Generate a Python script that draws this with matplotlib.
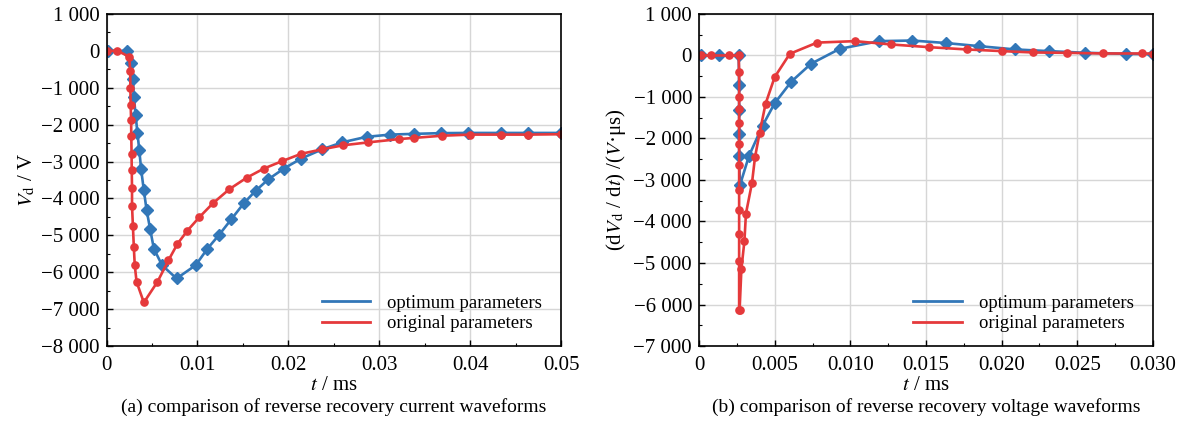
import numpy as np
import matplotlib.pyplot as plt
from matplotlib.ticker import FuncFormatter, MultipleLocator

plt.rcParams['font.family'] = ['Liberation Serif', 'DejaVu Serif']
plt.rcParams['mathtext.fontset'] = 'stix'

# (a) V_d waveforms, t in ms, V in volts
t_a_opt = [0.0002, 0.0022, 0.0027, 0.0029, 0.0030, 0.0032, 0.0034, 0.0036, 0.0038, 0.0041,
           0.0044, 0.0048, 0.0052, 0.0061, 0.0077, 0.0098, 0.0111, 0.0124, 0.0137, 0.0151,
           0.0164, 0.0178, 0.0195, 0.0214, 0.0237, 0.0259, 0.0286, 0.0312, 0.0338, 0.0368,
           0.0398, 0.0434, 0.0463, 0.0500]
v_a_opt = [0, 0, -340, -760, -1240, -1750, -2240, -2690, -3210, -3780,
           -4310, -4840, -5360, -5810, -6170, -5810, -5360, -4980, -4570, -4130,
           -3790, -3480, -3190, -2920, -2670, -2480, -2330, -2270, -2250, -2230,
           -2225, -2225, -2225, -2225]
t_a_org = [0.0001, 0.0012, 0.0025, 0.0026, 0.00262, 0.00265, 0.0027, 0.00272, 0.00275, 0.00277,
           0.0028, 0.0028, 0.0029, 0.0030, 0.0031, 0.0033, 0.0041, 0.0056, 0.0068, 0.0078,
           0.0089, 0.0102, 0.0117, 0.0135, 0.0154, 0.0173, 0.0193, 0.0214, 0.0237, 0.0260,
           0.0288, 0.0322, 0.0338, 0.0369, 0.0400, 0.0434, 0.0463, 0.0500]
v_a_org = [0, 0, -160, -550, -1000, -1460, -1880, -2310, -2790, -3240,
           -3720, -4200, -4760, -5320, -5810, -6260, -6820, -6260, -5680, -5230,
           -4870, -4510, -4130, -3750, -3440, -3190, -2990, -2790, -2670, -2560,
           -2480, -2390, -2360, -2300, -2270, -2270, -2270, -2260]

# (b) dV_d/dt waveforms
t_b_opt = [0.0001, 0.0013, 0.00262, 0.00265, 0.00265, 0.00265, 0.00265, 0.0027, 0.0033, 0.0042,
           0.0050, 0.0061, 0.0074, 0.0093, 0.0119, 0.0141, 0.0163, 0.0185, 0.0209, 0.0231,
           0.0255, 0.0282, 0.0300]
v_b_opt = [0, 0, 0, -720, -1320, -1900, -2420, -3130, -2420, -1690,
           -1150, -630, -200, 160, 345, 360, 300, 225, 145, 105,
           65, 40, 30]
t_b_org = [0.0001, 0.0008, 0.0020, 0.00262, 0.00265, 0.00265, 0.00265, 0.00265, 0.00265, 0.00265,
           0.00265, 0.00265, 0.00265, 0.00265, 0.00265, 0.00268, 0.0028, 0.0030, 0.0031, 0.0035,
           0.0037, 0.0040, 0.0044, 0.0050, 0.0060, 0.0078, 0.0103, 0.0127, 0.0152, 0.0177,
           0.0200, 0.0221, 0.0243, 0.0267, 0.0293, 0.0300]
v_b_org = [0, 0, 0, 0, -400, -1000, -1280, -1620, -2140, -2630,
           -3250, -3730, -4290, -4960, -6140, -6140, -5140, -4470, -3810, -3070,
           -2450, -1870, -1160, -520, 40, 310, 345, 265, 200, 145,
           105, 72, 64, 48, 48, 45]

blue = '#3277b8'
red = '#e5393b'


def thousands(v, pos):
    n = int(round(v))
    s = f"{abs(n):,}".replace(',', ' ')
    return ('\u2212' + s) if n < 0 else s


def style(ax, xmax, xmajor, ymin, ymax, xfmt):
    ax.set_xlim(0, xmax)
    ax.set_ylim(ymin, ymax)
    ax.xaxis.set_major_locator(MultipleLocator(xmajor))
    ax.xaxis.set_minor_locator(MultipleLocator(xmajor / 2))
    ax.yaxis.set_major_locator(MultipleLocator(1000))
    ax.yaxis.set_minor_locator(MultipleLocator(500))
    ax.yaxis.set_major_formatter(FuncFormatter(thousands))
    ax.xaxis.set_major_formatter(FuncFormatter(xfmt))
    ax.tick_params(which='both', direction='in', labelsize=15, top=False, right=False)
    ax.tick_params(which='major', length=4, width=1)
    ax.tick_params(which='minor', length=2.5, width=0.8)
    ax.tick_params(axis='x', which='major', pad=7)
    ax.tick_params(axis='y', which='major', pad=5)
    ax.grid(True, which='major', color='#d6d6d6', linewidth=1)
    ax.set_axisbelow(True)
    for sp in ax.spines.values():
        sp.set_linewidth(1.2)


fig = plt.figure(figsize=(11.84, 4.23), dpi=100)
ax1 = fig.add_axes([0.0900, 0.182, 0.3840, 0.785])
ax2 = fig.add_axes([0.5904, 0.182, 0.3834, 0.785])

ax1.plot(t_a_opt, v_a_opt, color=blue, lw=1.9, marker='D', ms=6.5, label='optimum parameters')
ax1.plot(t_a_org, v_a_org, color=red, lw=1.9, marker='o', ms=5.2, label='original parameters')
style(ax1, 0.05, 0.01, -8000, 1000, lambda v, p: '0' if abs(v) < 1e-12 else f"{v:.2f}")
ax1.set_xlabel('$t$ / ms', fontsize=15, labelpad=1)
ax1.set_ylabel('$V_{\\mathrm{d}}$ / V', fontsize=15, labelpad=3)

ax2.plot(t_b_opt, v_b_opt, color=blue, lw=1.9, marker='D', ms=6.5, label='optimum parameters')
ax2.plot(t_b_org, v_b_org, color=red, lw=1.9, marker='o', ms=5.2, label='original parameters')
style(ax2, 0.030, 0.005, -7000, 1000, lambda v, p: '0' if abs(v) < 1e-12 else f"{v:.3f}")
ax2.set_xlabel('$t$ / ms', fontsize=15, labelpad=1)
ax2.set_ylabel('(d$V_{\\mathrm{d}}$ / d$t$) /($V$\u00b7\u03bcs)', fontsize=15, labelpad=4)

for ax in (ax1, ax2):
    leg = ax.legend(loc='lower right', frameon=False, fontsize=13.5, handlelength=2.6,
                    handletextpad=0.9, labelspacing=0.2, bbox_to_anchor=(0.995, -0.01))
    for h in leg.legend_handles:
        h.set_marker('')
        h.set_linewidth(2)

fig.text(0.0900 + 0.3840 / 2, 0.017, '(a) comparison of reverse recovery current waveforms',
         ha='center', va='bottom', fontsize=14)
fig.text(0.5904 + 0.3834 / 2, 0.017, '(b) comparison of reverse recovery voltage waveforms',
         ha='center', va='bottom', fontsize=14)

fig.savefig('out.png', dpi=100)
